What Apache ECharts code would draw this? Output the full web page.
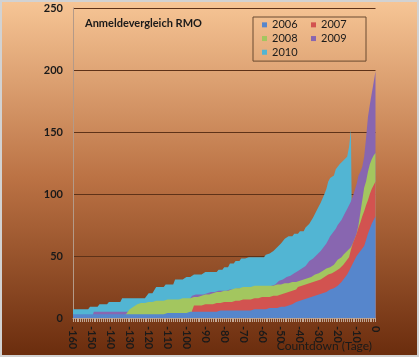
<!DOCTYPE html>
<html>
<head>
<meta charset="utf-8">
<script src="https://cdn.jsdelivr.net/npm/echarts@6/dist/echarts.min.js"></script>
<style>
html,body{margin:0;padding:0;background:#fff;}
#c{width:419px;height:357px;}
</style>
</head>
<body>
<div id="c"></div>
<script>
// Countdown days -160 .. 0
const days = [];
for (let d = -160; d <= 0; d++) days.push(String(d));

const seriesNames = ['2006', '2007', '2008', '2009', '2010'];

// one row per decade: -160..-151, -150..-141, ..., -10..-1, then day 0
const y2006 = [
  3,3,3,3,3,3,3,3,3,3,
  3,3,3,3,3,3,3,3,3,3,
  3,3,3,3,3,3,3,3,3,3,
  3,3,3,3,3,3,3,3,3,3,
  3,3,3,3,3,3,3,3,3,3,
  4,4,4,4,4,4,4,4,4,4,
  4,4,5,5,5,5,5,5,5,5,
  5,5,5,5,5,5,5,5,6,6,
  6,6,6,6,6,6,6,6,6,6,
  6,6,6,6,6,7,7,7,7,7,
  7,7,7,8,8,8,8,8,8,9,
  9,9,9,10,10,10,11,11,13,13,
  14,14,15,15,16,16,17,17,18,18,
  19,19,20,20,21,21,23,23,24,24,
  26,27,29,31,33,35,38,41,44,47,
  50,52,54,56,58,63,68,72,76,79,
  82
];
const y2007 = [
  0,0,0,0,0,0,0,0,0,0,
  0,0,0,0,0,0,0,0,0,0,
  0,0,0,0,0,0,0,0,0,0,
  0,0,0,0,0,0,0,0,0,0,
  0,0,0,0,0,0,0,0,0,0,
  0,0,0,0,0,0,0,0,0,0,
  0,0,0,6,10,10,10,10,10,11,
  11,11,11,11,11,12,12,12,12,12,
  13,13,13,13,13,14,14,14,14,14,
  15,15,15,15,15,16,16,16,16,17,
  17,17,17,17,17,17,18,18,18,19,
  19,20,20,21,21,22,22,23,23,25,
  25,26,26,27,27,28,28,29,29,30,
  30,31,31,33,33,35,35,36,36,38,
  38,40,40,43,45,47,49,55,60,64,
  68,73,77,82,86,91,95,100,104,107,
  110
];
const y2008 = [
  0,0,0,0,0,0,0,0,0,0,
  0,0,0,0,0,0,0,0,0,0,
  0,0,0,0,0,0,0,1,3,5,
  7,8,9,10,11,12,12,12,12,13,
  13,13,13,14,14,14,14,14,14,15,
  15,15,15,15,15,15,15,16,16,16,
  16,16,16,17,17,17,17,17,18,18,
  19,19,19,20,20,20,21,21,21,21,
  22,22,22,23,23,23,24,24,24,24,
  25,25,25,25,25,26,26,26,26,26,
  26,26,26,26,26,26,26,26,27,27,
  27,27,28,28,28,28,29,29,29,30,
  30,31,31,31,32,32,33,33,35,35,
  36,36,38,38,40,40,41,41,43,45,
  47,48,49,51,52,54,55,57,60,64,
  68,75,85,95,105,110,118,124,128,131,
  133
];
const y2009 = [
  0,0,0,0,0,0,0,0,0,0,
  0,5,5,5,5,5,5,5,5,5,
  5,5,5,5,5,5,5,5,5,5,
  6,6,6,6,6,8,8,8,8,8,
  8,8,8,8,8,10,10,10,10,10,
  10,10,10,10,10,12,12,14,14,14,
  14,14,16,18,18,19,19,19,19,19,
  20,20,20,21,21,21,22,22,22,22,
  22,22,22,23,23,23,24,24,24,24,
  24,24,24,24,24,25,25,25,25,25,
  25,25,25,25,25,26,26,27,28,30,
  31,31,32,33,33,34,35,36,37,38,
  39,40,41,42,44,46,47,48,49,51,
  52,54,56,58,60,63,66,68,70,72,
  75,77,79,82,85,88,91,94,98,103,
  108,115,118,122,130,145,162,172,181,190,
  199
];
const y2010 = [
  7,7,7,7,7,7,7,7,7,9,
  9,9,9,9,11,11,11,11,11,13,
  13,13,13,13,13,13,16,16,16,16,
  16,16,16,16,16,16,16,16,16,16,
  20,20,20,20,25,25,25,25,25,27,
  27,27,27,27,31,31,31,31,31,31,
  33,33,33,33,35,35,35,35,35,35,
  37,37,37,37,37,37,37,39,39,39,
  41,41,41,44,44,44,46,46,46,48,
  48,48,48,49,49,49,49,49,49,49,
  49,49,51,51,52,52,54,54,57,57,
  60,60,64,64,66,66,66,68,68,68,
  70,70,70,73,73,76,76,81,81,87,
  87,93,93,100,104,110,113,113,115,120,
  120,124,124,127,127,130,138,152,0,0,
  0,0,0,0,0,0,0,0,0,0,
  0
];

const yTicks = { min: 0, max: 250, step: 50 };

const colors = {
  '2006': '#5686cc',
  '2007': '#d25350',
  '2008': '#a3c65f',
  '2009': '#8866b0',
  '2010': '#52b5d3'
};
const valuesByName = { '2006': y2006, '2007': y2007, '2008': y2008, '2009': y2009, '2010': y2010 };

const FONT = 'Lato';
const TXT = '#1a1a1a';

// back to front: 2010 behind, 2006 in front
const drawOrder = ['2010', '2009', '2008', '2007', '2006'];
const series = drawOrder.map(n => ({
  name: n,
  type: 'line',
  data: valuesByName[n],
  symbol: 'none',
  showSymbol: false,
  lineStyle: { width: 0 },
  itemStyle: { color: colors[n] },
  areaStyle: { color: colors[n], opacity: 1 },
  emphasis: { disabled: true },
  silent: true
}));

const chart = echarts.init(document.getElementById('c'), null, { renderer: 'canvas', width: 419, height: 357 });
chart.setOption({
  animation: false,
  backgroundColor: new echarts.graphic.LinearGradient(0, 0, 0, 1, [
    { offset: 0, color: '#f7c696' },
    { offset: 0.5, color: '#bb7244' },
    { offset: 1, color: '#6a2c0d' }
  ]),
  graphic: [{
    type: 'rect',
    shape: { x: 1, y: 1, width: 417, height: 355 },
    style: { fill: null, stroke: '#d2d2d2', lineWidth: 2 },
    silent: true, z: 100
  }],
  title: [{
    text: 'Anmeldevergleich RMO',
    left: 85, top: 18, padding: 0,
    textStyle: { fontFamily: FONT, fontWeight: 'bold', fontSize: 11, color: TXT }
  }, {
    text: 'Countdown (Tage)',
    right: 47, top: 340, padding: 0,
    textStyle: { fontFamily: FONT, fontWeight: 'normal', fontSize: 12, color: TXT }
  }],
  legend: {
    data: seriesNames,
    left: 253, top: 17, width: 100,
    orient: 'horizontal',
    icon: 'rect',
    itemWidth: 5, itemHeight: 5, itemGap: 0,
    padding: [1, 6, 2, 9],
    borderColor: '#6a4a30', borderWidth: 1,
    selectedMode: false,
    textStyle: { fontFamily: FONT, fontSize: 11, color: TXT, width: 39, lineHeight: 13.7 }
  },
  grid: { left: 73, right: 43.5, top: 8, height: 310, containLabel: false, outerBoundsMode: 'none' },
  xAxis: {
    type: 'category',
    boundaryGap: false,
    data: days,
    axisLine: { lineStyle: { color: '#b49a88', width: 1 } },
    axisTick: { interval: 0, length: 4, lineStyle: { color: '#c2a896' } },
    axisLabel: { interval: 9, rotate: -90, margin: 8, fontFamily: FONT, fontWeight: 'bold', fontSize: 11, color: TXT },
    splitLine: { show: false }
  },
  yAxis: {
    type: 'value',
    min: yTicks.min, max: yTicks.max, interval: yTicks.step,
    axisLine: { show: true, lineStyle: { color: '#b49a88', width: 1 } },
    axisTick: { show: false },
    axisLabel: { margin: 10, fontFamily: FONT, fontWeight: 'bold', fontSize: 11, color: TXT },
    splitLine: { show: true, lineStyle: { color: '#5e3218', width: 1 } }
  },
  series: series
});
</script>
</body>
</html>
